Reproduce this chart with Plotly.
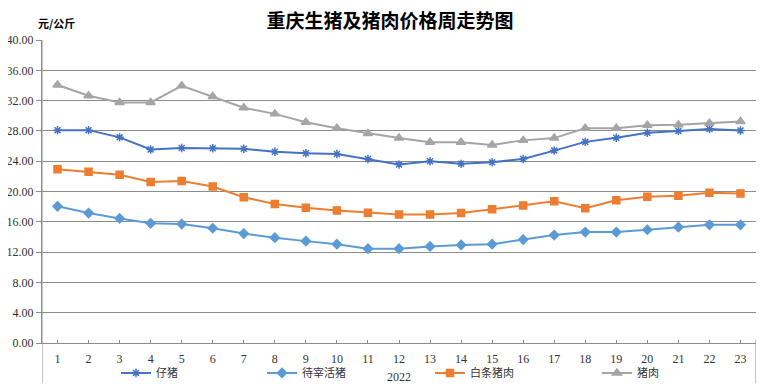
import plotly.graph_objects as go

weeks = list(range(1, 24))
piglet = [28.1, 28.1, 27.15, 25.55, 25.75, 25.7, 25.65, 25.25, 25.05, 24.95, 24.3, 23.55,
          24.0, 23.65, 23.85, 24.3, 25.4, 26.55, 27.1, 27.75, 28.0, 28.25, 28.05]
live_hog = [18.05, 17.15, 16.45, 15.8, 15.7, 15.15, 14.45, 13.9, 13.45, 13.05, 12.45, 12.45,
            12.75, 12.95, 13.05, 13.65, 14.25, 14.65, 14.65, 14.95, 15.3, 15.6, 15.6]
carcass = [22.95, 22.6, 22.2, 21.25, 21.4, 20.65, 19.25, 18.35, 17.85, 17.5, 17.2, 16.95,
           16.95, 17.15, 17.65, 18.15, 18.7, 17.8, 18.85, 19.3, 19.45, 19.85, 19.75]
pork = [34.05, 32.65, 31.75, 31.75, 33.95, 32.55, 31.05, 30.25, 29.15, 28.35, 27.65, 27.05,
        26.5, 26.5, 26.15, 26.75, 27.05, 28.35, 28.35, 28.75, 28.8, 29.0, 29.25]

names = ["仔猪", "待宰活猪", "白条猪肉", "猪肉"]
colors = ["#4472C4", "#5B9BD5", "#ED7D31", "#A5A5A5"]
symbols = ["asterisk-open", "diamond", "square", "triangle-up"]
sizes = [7, 7, 7, 8]
series = [piglet, live_hog, carcass, pork]
year_label = "2022"
y_ticks = [0, 4, 8, 12, 16, 20, 24, 28, 32, 36, 40]

fig = go.Figure()
legend_ids = ["legend", "legend2", "legend3", "legend4"]
for nm, col, sym, sz, vals, lg in zip(names, colors, symbols, sizes, series, legend_ids):
    fig.add_trace(go.Scatter(
        x=weeks, y=vals, name=nm, mode="lines+markers",
        line=dict(color=col, width=2),
        marker=dict(symbol=sym, size=sz, color=col, line=dict(color=col, width=1.5)),
        legend=lg,
    ))

# page has an 8px body margin; figure coordinates = page coordinates - OFF
OFF = 8
W, H = 777 - OFF, 384 - OFF
L, R, T, B = 42 - OFF, 21, 39.5 - OFF, 384 - 343.5
pw = W - L - R
ph = H - T - B

def px_x(px):
    return (px - OFF - L) / pw

def px_y(py):
    return (H - B - (py - OFF)) / ph

leg_font = dict(family="Noto Sans CJK SC", size=11, color="#333333")
leg_lefts = [116, 262, 430, 597]
legend_kw = {}
for lg, lx in zip(legend_ids, leg_lefts):
    legend_kw[lg] = dict(x=px_x(lx), y=px_y(373.5), xanchor="left", yanchor="middle",
                         orientation="h", font=leg_font, bgcolor="rgba(0,0,0,0)",
                         itemwidth=30, tracegroupgap=0)

grid_col = "#8C8C8C"
fig.update_layout(
    width=W, height=H,
    margin=dict(l=L, r=R, t=T, b=B, autoexpand=False),
    paper_bgcolor="white", plot_bgcolor="white",
    title=dict(text="<b>重庆生猪及猪肉价格周走势图</b>", x=(390 - OFF) / W, xanchor="center",
               y=1 - (21 - OFF) / H, yanchor="middle",
               font=dict(family="Noto Sans CJK SC", size=19, color="#000000")),
    xaxis=dict(range=[0.5, 23.5], tickmode="array", tickvals=weeks,
               ticktext=[str(w) for w in weeks], showgrid=False, zeroline=False,
               showline=True, linecolor=grid_col, linewidth=1,
               ticks="inside", ticklen=3, tickcolor=grid_col, ticklabelstandoff=5,
               tickfont=dict(family="Liberation Serif", size=12, color="#333333")),
    yaxis=dict(range=[0, 40], tickmode="array", tickvals=y_ticks,
               ticktext=[f"{v:.2f}" for v in y_ticks],
               showgrid=True, gridcolor=grid_col, gridwidth=1, zeroline=False,
               showline=True, linecolor=grid_col, linewidth=1,
               ticks="outside", ticklen=5, tickcolor=grid_col,
               tickfont=dict(family="Liberation Serif", size=12, color="#333333")),
    showlegend=True,
    **legend_kw,
)

fig.add_annotation(text="<b>元/公斤</b>", xref="paper", yref="paper",
                   x=px_x(36), y=px_y(22), xanchor="left", yanchor="middle",
                   showarrow=False,
                   font=dict(family="Noto Sans CJK SC", size=11, color="#000000"))

fig.add_annotation(text=year_label, xref="paper", yref="paper",
                   x=0.5, y=px_y(378), xanchor="center", yanchor="middle",
                   showarrow=False,
                   font=dict(family="Liberation Serif", size=12, color="#333333"))

# category-group divider lines below the axis
fig.add_shape(type="line", xref="x", yref="paper", x0=0.5, x1=0.5, y0=1, y1=px_y(384),
              line=dict(color=grid_col, width=1))
fig.add_shape(type="line", xref="x", yref="paper", x0=23.5, x1=23.5, y0=px_y(340), y1=px_y(384),
              line=dict(color=grid_col, width=1))

fig.write_html("out.html")
